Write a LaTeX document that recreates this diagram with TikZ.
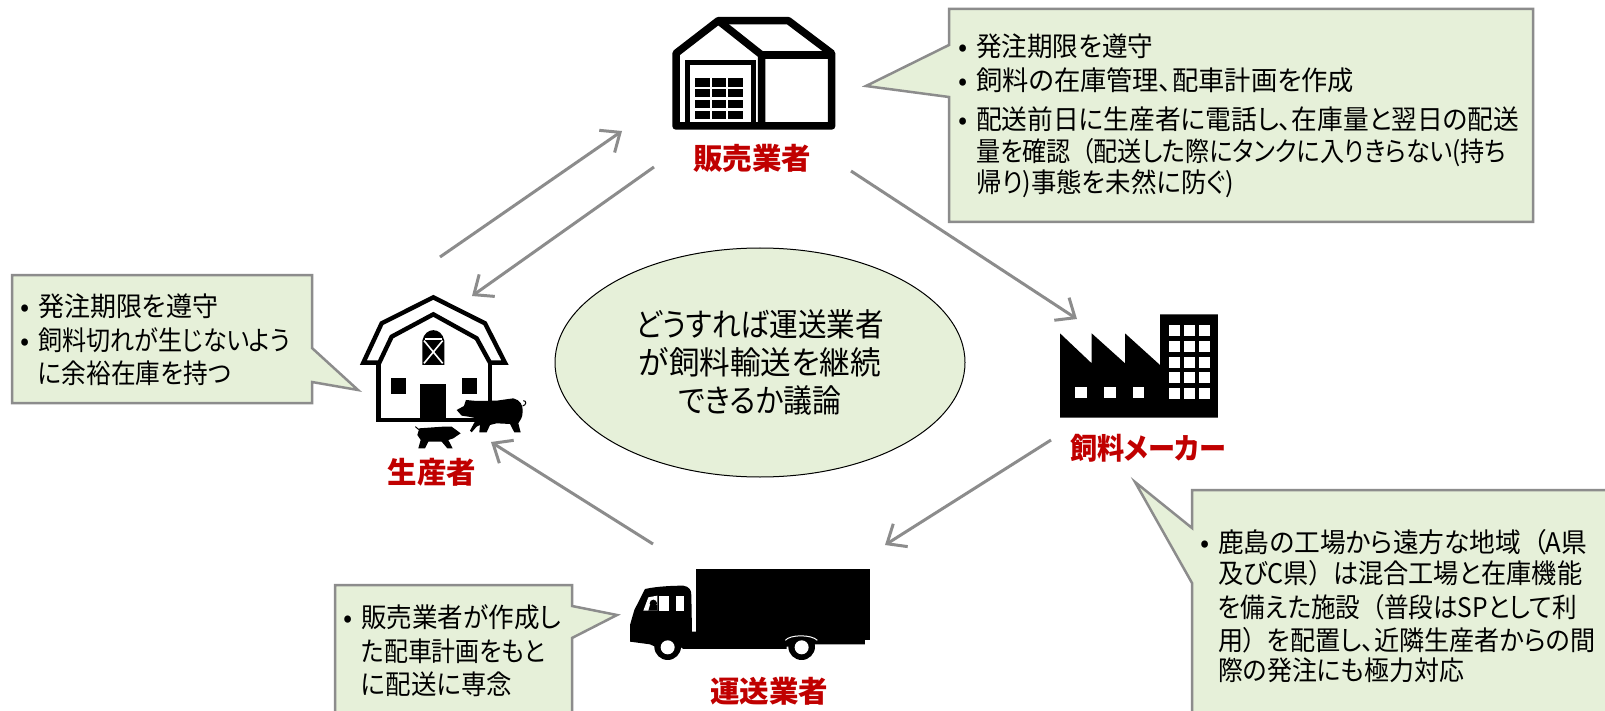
\documentclass[tikz,border=0pt]{standalone}
\usepackage{graphicx}
\usepackage{fontspec}
\setmainfont[RawFeature={+palt}]{Noto Sans CJK JP}
\usetikzlibrary{arrows.meta,shapes.geometric}
\definecolor{cfill}{HTML}{E6F0D9}
\definecolor{cedge}{HTML}{8C8C8C}
\definecolor{cred}{HTML}{C00000}
\newcommand{\fitl}[2]{\resizebox{#1pt}{\height}{#2}}
\newcommand{\bul}{\makebox[18pt][l]{•}}
\newcommand{\ind}{\hspace*{18pt}}
\newcommand{\gp}{\hspace{0.45em}}
\tikzset{
  callout/.style={draw=cedge,fill=cfill,line width=2.5pt,line join=miter},
  bodytext/.style={anchor=north west,align=left,inner sep=0pt,font=\fontsize{27}{34}\selectfont,text=black},
  actor/.style={inner sep=0pt,text=cred,font=\fontsize{29.5}{32}\selectfont\bfseries},
  flow/.style={draw=cedge,line width=3pt,-{Straight Barb[length=16pt,width=27pt]}},
  ink/.style={fill=black,draw=none},
  icon/.style={x=0.3333pt,y=-0.3333pt}
}
\begin{document}
\begin{tikzpicture}[x=1pt,y=-1pt]
\useasboundingbox (0,0) rectangle (1605,711);
\fill[white] (0,0) rectangle (1605,711);

% ---- callouts
\draw[callout] (949,9)--(1533,9)--(1533,222)--(949,222)--(949,97)--(866,86)--(949,45)--cycle;
\draw[callout] (12,275)--(312,275)--(312,348)--(358,390)--(312,382)--(312,403)--(12,403)--cycle;
\draw[callout] (1192,490)--(1620,490)--(1620,730)--(1192,730)--(1192,583)--(1135,482)--(1192,528)--cycle;
\draw[callout] (335,585)--(572,585)--(572,606)--(617,615)--(572,638)--(572,730)--(335,730)--cycle;

\node[bodytext] (tseller) at (958,34) {\bul\fitl{177}{発注期限を遵守}\\\bul\fitl{378}{飼料の在庫管理、配車計画を作成}\\[5pt]\bul\fitl{543}{配送前日に生産者に電話し、在庫量と翌日の配送}\\[-2pt]\ind\fitl{530}{量を確認\gp（配送した際にタンクに入りきらない(持ち}\\[-3pt]\ind\fitl{258}{帰り)事態を未然に防ぐ)}};
\node[bodytext] (tfarm) at (20,294) {\bul\fitl{180}{発注期限を遵守}\\\bul\fitl{252}{飼料切れが生じないよう}\\[-1pt]\ind\fitl{193}{に余裕在庫を持つ}};
\node[bodytext] (tmaker) at (1200,529) {\bul\fitl{369}{鹿島の工場から遠方な地域\gp（A県}\\[-3pt]\ind\fitl{364}{及びC県）\gp は混合工場と在庫機能}\\\ind\fitl{359}{を備えた施設\gp（普段はSPとして利}\\[-1pt]\ind\fitl{377}{用）\gp を配置し、近隣生産者からの間}\\[-4pt]\ind\fitl{246}{際の発注にも極力対応}};
\node[bodytext] (ttruck) at (343,604) {\bul\fitl{200}{販売業者が作成し}\\\ind\fitl{184}{た配車計画をもと}\\[-1pt]\ind\fitl{151}{に配送に専念}};

% ---- centre
\node[draw=black,line width=1pt,fill=cfill,ellipse,minimum width=410pt,minimum height=229pt,inner sep=0pt,align=center,font=\fontsize{32}{38.3}\selectfont] (centre) at (760,362.5) {\fitl{248}{どうすれば運送業者}\\\fitl{242}{が飼料輸送を継続}\\\fitl{163}{できるか議論}};

% ---- seller icon (warehouse)
\begin{scope}[shift={(640,0)},icon]
\draw[line width=7.5pt,line join=round] (108,160)--(235,62)--(445,62)--(575,160)--(575,378)--(108,378)--cycle;
\draw[line width=7.5pt,line join=round] (235,62)--(365,165)--(365,378);
\draw[line width=7.5pt] (365,165)--(575,165);
\draw[line width=5pt] (142,378)--(142,188)--(342,188)--(342,378);
\foreach \yy in {235,267,300,332}{\foreach \xx in {165,215,265}{\fill[ink] (\xx,\yy) rectangle ++(44,25);}}
\end{scope}

% ---- farm icon (barn)
\begin{scope}[shift={(330,270)},icon]
\draw[line width=4.4pt,line join=miter] (100,278)--(155,160)--(310,82)--(465,160)--(525,278)--(480,278)--(440,205)--(310,133)--(185,200)--(148,278)--cycle;
\draw[line width=4.4pt] (145,278)--(145,450)--(480,450)--(480,278);
\fill[ink] (183,323) rectangle (227,372);
\fill[ink] (395,323) rectangle (440,372);
\fill[ink] (270,343) rectangle (348,450);
\fill[ink] (277,285)--(277,212) .. controls (285,170) and (335,170) .. (343,212)--(343,285)--cycle;
\draw[white,line width=1.6pt] (282,212)--(338,280) (338,212)--(282,280);
\draw[white,line width=1.2pt] (285,207)--(335,207);
\fill[white] (375,410) rectangle (480,445);
\fill[ink] (380,420)--(402,408)--(408,390)--(440,393)--(500,392)--(550,385) .. controls (570,390) and (580,405) .. (578,425) .. controls (578,445) and (570,450) .. (565,460)--(572,487)--(553,487)--(540,462)--(500,460)--(480,465)--(470,487)--(448,487)--(450,465)--(440,470)--(425,487)--(420,482)--(440,445)--(415,440)--(395,437)--cycle;
\draw[line width=1pt] (578,408) .. controls (590,405) and (590,392) .. (580,392);
\fill[ink] (268,475)--(340,470)--(365,470)--(392,490)--(370,505)--(355,510)--(368,535)--(352,535)--(335,515)--(295,515)--(285,535)--(265,535)--(272,510)--(262,495)--cycle;
\draw[line width=1pt] (268,480)--(256,470);
\end{scope}

% ---- maker icon (factory)
\begin{scope}[shift={(1020,295)},icon]
\fill[ink] (120,115)--(215,205)--(215,115)--(315,205)--(315,115)--(420,210)--(420,58)--(594,58)--(594,368)--(120,368)--cycle;
\foreach \yy in {90,138,185,232,278}{\foreach \xx in {447,492,537}{\fill[white] (\xx,\yy) rectangle ++(33,33);}}
\foreach \xx in {165,252,338}{\fill[white] (\xx,275) rectangle ++(35,35);}
\end{scope}

% ---- truck icon
\begin{scope}[shift={(600,545)},icon]
\fill[ink] (90,290)--(90,240)--(103,195)--(135,132) .. controls (170,124) and (220,122) .. (250,122) .. controls (268,125) and (274,135) .. (274,150)--(276,260)--(288,260)--(288,72)--(810,72)--(810,285)--(795,285)--(795,298)--(640,298)--(640,305)--(560,305)--(560,312)--(250,312)--(240,305)--(165,305)--(150,298)--cycle;
\fill[ink] (203,305) circle[radius=40];
\fill[ink] (605,305) circle[radius=40];
\fill[white] (203,307) circle[radius=21];
\fill[white] (605,307) circle[radius=21];
\draw[white,line width=1pt] (556,286) .. controls (570,268) and (635,268) .. (652,286);
\fill[white] (178,152) rectangle (208,197);
\fill[white] (228,152) rectangle (252,197);
\fill[white] (130,197)--(145,157)--(172,152)--(172,197)--cycle;
\fill[ink] (160,175) circle[radius=11];
\fill[ink] (145,197)--(150,180)--(172,180)--(172,197)--cycle;
\end{scope}

% ---- actor labels
\node[actor] (seller) at (752,158) {販売業者};
\node[actor] (farm) at (432,472) {生産者};
\node[actor] (maker) at (1148,448) {\fitl{156}{飼料メーカー}};
\node[actor] (truck) at (769,691) {運送業者};

% ---- connector ends
\coordinate (a1s) at (440,257); \coordinate (a1e) at (622,131);
\coordinate (a2s) at (654,167); \coordinate (a2e) at (472,296);
\coordinate (a3s) at (851,171); \coordinate (a3e) at (1077,319);
\coordinate (a4s) at (1051,440); \coordinate (a4e) at (885,545);
\coordinate (a5s) at (653,544); \coordinate (a5e) at (491,442);
\draw[flow] (a1s) -- (a1e);
\draw[flow] (a2s) -- (a2e);
\draw[flow] (a3s) -- (a3e);
\draw[flow] (a4s) -- (a4e);
\draw[flow] (a5s) -- (a5e);
\end{tikzpicture}
\end{document}
